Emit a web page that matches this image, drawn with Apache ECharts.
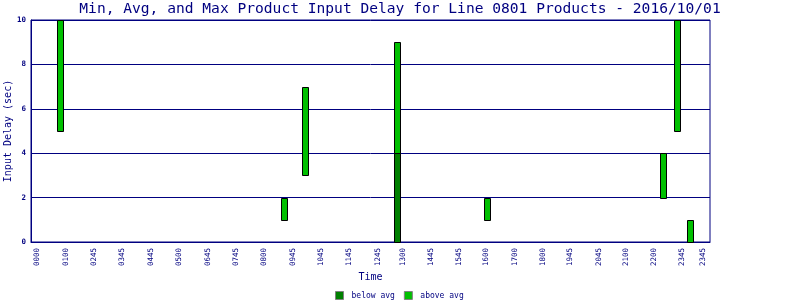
<!DOCTYPE html>
<html>
<head>
<meta charset="utf-8">
<script src="https://cdn.jsdelivr.net/npm/echarts@6/dist/echarts.min.js"></script>
<style>html,body{margin:0;padding:0;background:#fff}#c{width:800px;height:300px}</style>
</head>
<body>
<div id="c"></div>
<script>
// Bars: time of day (minutes), min, avg, max input delay (sec)
const barTimes = [62, 537, 582, 776, 967, 1341, 1369, 1398];
const minDelay = [5, 1, 3, 0, 1, 2, 5, 0];
const avgDelay = [5, 1, 3, 4, 1, 2, 5, 0];
const maxDelay = [10, 2, 7, 9, 2, 4, 10, 1];

// x tick labels and the minute where each is shown
const tickLabels = ['0000','0100','0245','0345','0445','0500','0645','0745','0800','0945','1045','1145','1245','1300','1445','1545','1600','1700','1800','1945','2045','2100','2200','2345','2345'];
const tickMinutes = [13,74,134,194,254,314,375,435,494,555,615,674,735,788,848,907,966,1026,1085,1144,1204,1262,1322,1381,1426];

const yTicks = [0, 2, 4, 6, 8, 10];
const seriesNames = ['below avg', 'above avg'];

const NAVY = '#000080';
const FONT = 'DejaVu Sans Mono';

const belowData = barTimes.map((t, i) => [t, minDelay[i], avgDelay[i]]);
const aboveData = barTimes.map((t, i) => [t, avgDelay[i], maxDelay[i]]);

function makeRender(color) {
  return function (params, api) {
    const x = api.value(0), lo = api.value(1), hi = api.value(2);
    if (hi <= lo) return null;
    const p1 = api.coord([x, lo]);
    const p2 = api.coord([x, hi]);
    const cx = Math.round(p1[0]);
    return {
      type: 'rect',
      shape: { x: cx - 2.5, y: Math.round(p2[1]) + 0.5, width: 6, height: Math.round(p1[1]) - Math.round(p2[1]) },
      style: { fill: color, stroke: '#000', lineWidth: 1 }
    };
  };
}

const chart = echarts.init(document.getElementById('c'), null, { renderer: 'canvas' });
chart.setOption({
  animation: false,
  backgroundColor: '#fff',
  title: {
    text: 'Min, Avg, and Max Product Input Delay for Line 0801 Products - 2016/10/01',
    left: 'center', top: 2, padding: 0,
    textStyle: { fontFamily: FONT, fontSize: 14.6, fontWeight: 'normal', color: NAVY }
  },
  legend: {
    left: 335, top: 291, padding: 0,
    itemWidth: 8, itemHeight: 8, itemGap: 9, icon: 'rect',
    itemStyle: { borderColor: '#808080', borderWidth: 1 },
    textStyle: { fontFamily: FONT, fontSize: 8, color: NAVY, padding: [0, 0, 0, 3] },
    data: seriesNames
  },
  grid: {
    left: 31, right: 90, top: 20, bottom: 58,
    containLabel: false, outerBoundsMode: 'none',
    show: true, borderColor: NAVY, borderWidth: 1, backgroundColor: 'transparent'
  },
  xAxis: {
    type: 'value', min: 0, max: 1440,
    name: 'Time', nameLocation: 'middle', nameGap: 30, nameMoveOverlap: false,
    nameTextStyle: { fontFamily: FONT, fontSize: 10, color: NAVY },
    axisLine: { show: true, lineStyle: { color: NAVY, width: 1 } },
    axisTick: { show: false },
    splitLine: { show: false },
    axisLabel: {
      customValues: tickMinutes,
      rotate: 90, margin: 6,
      fontFamily: FONT, fontSize: 7.5, color: NAVY,
      formatter: function (v) { const k = tickMinutes.indexOf(v); return k >= 0 ? tickLabels[k] : ''; }
    }
  },
  yAxis: {
    type: 'value', min: 0, max: 10, interval: 2,
    name: 'Input Delay (sec)', nameLocation: 'middle', nameGap: 18, nameRotate: 90, nameMoveOverlap: false,
    nameTextStyle: { fontFamily: FONT, fontSize: 10, color: NAVY },
    axisLine: { show: true, lineStyle: { color: NAVY, width: 1 } },
    axisTick: { show: false },
    splitLine: { show: true, lineStyle: { color: NAVY, width: 1 } },
    axisLabel: {
      margin: 5, fontFamily: FONT, fontSize: 7.5, fontWeight: 'bold', color: NAVY,
      formatter: function (v) { return yTicks.indexOf(v) >= 0 ? String(v) : ''; }
    }
  },
  series: [
    {
      name: seriesNames[0], type: 'custom', renderItem: makeRender('#008000'),
      itemStyle: { color: '#008000' },
      encode: { x: 0, y: [1, 2] }, data: belowData
    },
    {
      name: seriesNames[1], type: 'custom', renderItem: makeRender('#00c000'),
      itemStyle: { color: '#00c000' },
      encode: { x: 0, y: [1, 2] }, data: aboveData
    }
  ]
});
</script>
</body>
</html>
